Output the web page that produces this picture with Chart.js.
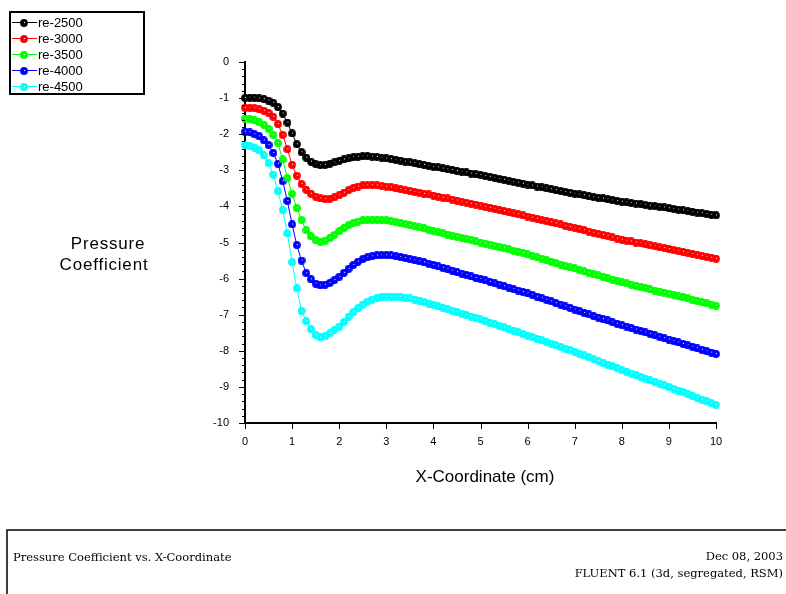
<!DOCTYPE html>
<html>
<head>
  <title>Pressure Coefficient vs. X-Coordinate</title>
  <script src="https://cdn.jsdelivr.net/npm/chart.js@4.4.0/dist/chart.umd.min.js"></script>
  <style>
    body { margin: 0; background: #fff; }
    canvas { display: block; }
  </style>
</head>
<body>
  <canvas id="plot" width="786" height="594"></canvas>
  <script>
    // x positions along the wall (cm)
    var xs = [0.0, 0.1, 0.2, 0.3, 0.4, 0.5, 0.6, 0.7, 0.8, 0.9,
      1.0, 1.1, 1.2, 1.3, 1.4, 1.5, 1.6, 1.7, 1.8, 1.9,
      2.0, 2.1, 2.2, 2.3, 2.4, 2.5, 2.6, 2.7, 2.8, 2.9,
      3.0, 3.1, 3.2, 3.3, 3.4, 3.5, 3.6, 3.7, 3.8, 3.9,
      4.0, 4.1, 4.2, 4.3, 4.4, 4.5, 4.6, 4.7, 4.8, 4.9,
      5.0, 5.1, 5.2, 5.3, 5.4, 5.5, 5.6, 5.7, 5.8, 5.9,
      6.0, 6.1, 6.2, 6.3, 6.4, 6.5, 6.6, 6.7, 6.8, 6.9,
      7.0, 7.1, 7.2, 7.3, 7.4, 7.5, 7.6, 7.7, 7.8, 7.9,
      8.0, 8.1, 8.2, 8.3, 8.4, 8.5, 8.6, 8.7, 8.8, 8.9,
      9.0, 9.1, 9.2, 9.3, 9.4, 9.5, 9.6, 9.7, 9.8, 9.9, 10.0];

    var re2500 = [-1.00, -0.99, -0.99, -1.01, -1.03, -1.07, -1.13, -1.25, -1.43, -1.68,
      -1.98, -2.28, -2.50, -2.65, -2.76, -2.83, -2.86, -2.85, -2.82, -2.78,
      -2.74, -2.70, -2.67, -2.64, -2.62, -2.61, -2.61, -2.62, -2.63, -2.65,
      -2.67, -2.69, -2.71, -2.73, -2.76, -2.78, -2.80, -2.83, -2.85, -2.88,
      -2.90, -2.92, -2.95, -2.97, -2.99, -3.02, -3.04, -3.06, -3.09, -3.11,
      -3.13, -3.16, -3.18, -3.21, -3.24, -3.26, -3.29, -3.32, -3.34, -3.37,
      -3.40, -3.42, -3.45, -3.47, -3.50, -3.52, -3.55, -3.57, -3.60, -3.62,
      -3.65, -3.67, -3.69, -3.72, -3.74, -3.76, -3.78, -3.80, -3.83, -3.85,
      -3.87, -3.89, -3.91, -3.92, -3.94, -3.96, -3.98, -3.99, -4.01, -4.03,
      -4.05, -4.07, -4.09, -4.11, -4.13, -4.15, -4.17, -4.19, -4.21, -4.23, -4.25];

    var re3000 = [-1.27, -1.27, -1.28, -1.31, -1.35, -1.41, -1.52, -1.72, -2.02, -2.42,
      -2.85, -3.15, -3.38, -3.54, -3.65, -3.73, -3.78, -3.80, -3.79, -3.75,
      -3.69, -3.62, -3.55, -3.49, -3.45, -3.42, -3.41, -3.41, -3.42, -3.43,
      -3.45, -3.47, -3.50, -3.52, -3.55, -3.57, -3.60, -3.62, -3.65, -3.67,
      -3.70, -3.73, -3.76, -3.78, -3.81, -3.84, -3.87, -3.90, -3.93, -3.95,
      -3.98, -4.01, -4.04, -4.07, -4.10, -4.13, -4.16, -4.19, -4.22, -4.25,
      -4.28, -4.31, -4.34, -4.38, -4.41, -4.44, -4.47, -4.50, -4.54, -4.57,
      -4.60, -4.63, -4.66, -4.70, -4.73, -4.76, -4.79, -4.82, -4.86, -4.89,
      -4.92, -4.95, -4.97, -5.00, -5.02, -5.05, -5.08, -5.10, -5.13, -5.15,
      -5.18, -5.21, -5.24, -5.26, -5.29, -5.32, -5.34, -5.37, -5.40, -5.42, -5.45];

    var re3500 = [-1.57, -1.58, -1.62, -1.67, -1.74, -1.85, -2.02, -2.25, -2.70, -3.22,
      -3.65, -4.05, -4.38, -4.66, -4.83, -4.94, -4.98, -4.95, -4.88, -4.79,
      -4.69, -4.60, -4.52, -4.46, -4.42, -4.39, -4.38, -4.37, -4.37, -4.38,
      -4.39, -4.41, -4.43, -4.46, -4.49, -4.52, -4.55, -4.58, -4.61, -4.65,
      -4.68, -4.71, -4.74, -4.78, -4.81, -4.84, -4.87, -4.90, -4.93, -4.97,
      -5.00, -5.03, -5.06, -5.10, -5.13, -5.16, -5.19, -5.23, -5.26, -5.29,
      -5.33, -5.37, -5.41, -5.45, -5.49, -5.53, -5.57, -5.61, -5.65, -5.69,
      -5.72, -5.76, -5.80, -5.84, -5.88, -5.91, -5.95, -5.99, -6.03, -6.06,
      -6.10, -6.13, -6.17, -6.20, -6.23, -6.26, -6.30, -6.33, -6.36, -6.39,
      -6.42, -6.45, -6.49, -6.52, -6.55, -6.59, -6.62, -6.65, -6.68, -6.72, -6.75];

    var re4000 = [-1.93, -1.95, -2.00, -2.06, -2.17, -2.30, -2.52, -2.82, -3.30, -3.85,
      -4.50, -5.07, -5.50, -5.85, -6.02, -6.14, -6.19, -6.17, -6.12, -6.04,
      -5.95, -5.84, -5.73, -5.62, -5.53, -5.46, -5.41, -5.38, -5.36, -5.35,
      -5.35, -5.36, -5.38, -5.40, -5.43, -5.46, -5.49, -5.52, -5.55, -5.59,
      -5.62, -5.66, -5.70, -5.74, -5.78, -5.82, -5.86, -5.90, -5.94, -5.98,
      -6.01, -6.05, -6.09, -6.13, -6.17, -6.21, -6.25, -6.29, -6.33, -6.37,
      -6.41, -6.45, -6.50, -6.54, -6.59, -6.63, -6.68, -6.72, -6.77, -6.81,
      -6.86, -6.90, -6.95, -6.99, -7.04, -7.08, -7.12, -7.16, -7.21, -7.25,
      -7.29, -7.33, -7.37, -7.41, -7.45, -7.49, -7.53, -7.57, -7.61, -7.65,
      -7.69, -7.73, -7.77, -7.81, -7.85, -7.89, -7.93, -7.97, -8.01, -8.05, -8.09];

    var re4500 = [-2.30, -2.32, -2.37, -2.45, -2.58, -2.80, -3.12, -3.58, -4.10, -4.75,
      -5.55, -6.27, -6.90, -7.18, -7.40, -7.56, -7.63, -7.60, -7.52, -7.42,
      -7.33, -7.20, -7.06, -6.93, -6.82, -6.72, -6.64, -6.58, -6.54, -6.51,
      -6.50, -6.50, -6.50, -6.51, -6.53, -6.55, -6.58, -6.61, -6.65, -6.69,
      -6.73, -6.77, -6.81, -6.85, -6.89, -6.93, -6.97, -7.01, -7.05, -7.09,
      -7.13, -7.17, -7.22, -7.26, -7.31, -7.35, -7.40, -7.44, -7.49, -7.53,
      -7.58, -7.62, -7.67, -7.71, -7.76, -7.80, -7.85, -7.89, -7.94, -7.98,
      -8.03, -8.08, -8.13, -8.18, -8.23, -8.28, -8.33, -8.38, -8.43, -8.48,
      -8.53, -8.58, -8.63, -8.67, -8.72, -8.77, -8.82, -8.86, -8.91, -8.96,
      -9.00, -9.05, -9.10, -9.14, -9.19, -9.25, -9.30, -9.35, -9.40, -9.45, -9.50];

    var seriesNames = ['re-2500', 're-3000', 're-3500', 're-4000', 're-4500'];
    var seriesValues = [re2500, re3000, re3500, re4000, re4500];
    var seriesColors = ['#000000', '#ff0000', '#00ff00', '#0000ff', '#00ffff'];

    // round marker with a small white highlight in the middle
    function markerImage(color) {
      var c = document.createElement('canvas');
      c.width = 8;
      c.height = 8;
      var g = c.getContext('2d');
      g.fillStyle = color;
      g.beginPath();
      g.arc(4, 4, 3.9, 0, Math.PI * 2);
      g.fill();
      g.fillStyle = '#ffffff';
      g.fillRect(4, 3, 1, 1);
      return c;
    }

    var datasets = seriesValues.map(function (vals, i) {
      return {
        label: seriesNames[i],
        data: vals.map(function (v, j) { return { x: xs[j], y: v }; }),
        borderColor: seriesColors[i],
        backgroundColor: seriesColors[i],
        borderWidth: 1,
        pointStyle: markerImage(seriesColors[i]),
        pointRadius: 4,
        tension: 0,
        clip: false
      };
    });

    // tick marks, axis titles, legend box and footer
    var decorations = {
      id: 'decorations',
      afterDraw: function (chart) {
        var ctx = chart.ctx;
        var xScale = chart.scales.x;
        var yScale = chart.scales.y;
        var area = chart.chartArea;
        ctx.save();
        ctx.strokeStyle = '#000';
        ctx.lineWidth = 1;

        // y ticks: major every 1, minor every 0.2
        for (var k = 0; k <= 50; k++) {
          var yv = -k / 5;
          var py = Math.round(yScale.getPixelForValue(yv)) + 0.5;
          var len = (k % 5 === 0) ? 6 : 3;
          ctx.beginPath();
          ctx.moveTo(area.left - len, py);
          ctx.lineTo(area.left, py);
          ctx.stroke();
        }
        // x ticks
        for (var m = 0; m <= 10; m++) {
          var px = Math.round(xScale.getPixelForValue(m)) + 0.5;
          ctx.beginPath();
          ctx.moveTo(px, area.bottom);
          ctx.lineTo(px, area.bottom + 6);
          ctx.stroke();
        }

        // axis titles
        ctx.fillStyle = '#000';
        ctx.font = '17px "Liberation Sans", Arial, sans-serif';
        ctx.textAlign = 'center';
        ctx.textBaseline = 'middle';
        ctx.fillText('X-Coordinate (cm)', 485, 477);
        ctx.letterSpacing = '0.8px';
        ctx.fillText('Pressure', 108, 244);
        ctx.fillText('Coefficient', 104, 265);
        ctx.letterSpacing = '0px';

        // legend
        ctx.lineWidth = 2;
        ctx.strokeRect(10, 12, 134, 82);
        ctx.font = '13px "Liberation Sans", Arial, sans-serif';
        ctx.textAlign = 'left';
        chart.data.datasets.forEach(function (ds, i) {
          var ly = 22 + i * 16;
          ctx.strokeStyle = ds.borderColor;
          ctx.lineWidth = 1;
          ctx.beginPath();
          ctx.moveTo(12, ly + 0.5);
          ctx.lineTo(37, ly + 0.5);
          ctx.stroke();
          ctx.drawImage(ds.pointStyle, 20, ly - 3);
          ctx.fillStyle = '#000';
          ctx.fillText(ds.label, 38, ly + 1);
        });

        // footer panel
        ctx.strokeStyle = '#000';
        ctx.lineWidth = 1.5;
        ctx.strokeRect(7, 530, 800, 100);
        ctx.font = '11.5px "DejaVu Serif", "Liberation Serif", serif';
        ctx.fillStyle = '#000';
        ctx.textAlign = 'left';
        ctx.fillText('Pressure Coefficient vs. X-Coordinate', 13, 558);
        ctx.textAlign = 'right';
        ctx.fillText('Dec 08, 2003', 783, 557);
        ctx.fillText('FLUENT 6.1 (3d, segregated, RSM)', 783, 574);
        ctx.restore();
      }
    };

    new Chart(document.getElementById('plot'), {
      type: 'line',
      data: { datasets: datasets },
      options: {
        responsive: false,
        animation: false,
        events: [],
        layout: { padding: { left: 0, right: 70, top: 62, bottom: 141 } },
        plugins: {
          legend: { display: false },
          tooltip: { enabled: false }
        },
        scales: {
          x: {
            type: 'linear',
            min: 0,
            max: 10,
            afterFit: function (scale) { scale.height = 30; },
            grid: { display: false, drawTicks: false },
            border: { display: true, color: '#000', width: 2 },
            ticks: {
              stepSize: 1,
              padding: 12,
              color: '#000',
              font: { family: '"Liberation Sans", Arial, sans-serif', size: 11 }
            }
          },
          y: {
            type: 'linear',
            min: -10,
            max: 0,
            afterFit: function (scale) { scale.width = 245; },
            grid: { display: false, drawTicks: false },
            border: { display: true, color: '#000', width: 2 },
            ticks: {
              stepSize: 1,
              padding: 16,
              color: '#000',
              font: { family: '"Liberation Sans", Arial, sans-serif', size: 11 }
            }
          }
        }
      },
      plugins: [decorations]
    });
  </script>
</body>
</html>
